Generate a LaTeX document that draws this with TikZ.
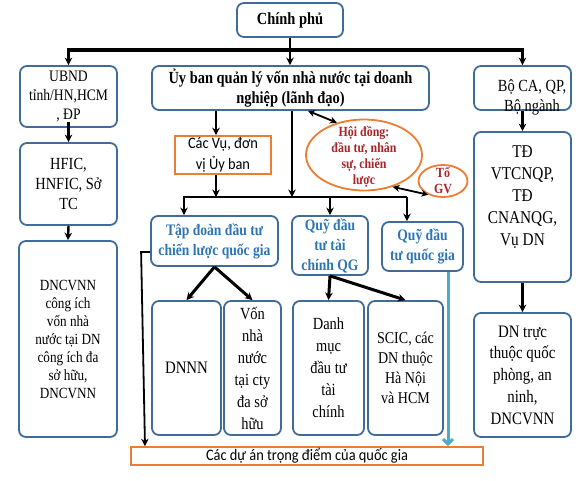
\documentclass[tikz,border=0pt]{standalone}
\usepackage{fontspec}
\setmainfont{Liberation Serif}[FakeStretch=0.85]
\newfontfamily\sansf{Carlito}[FakeStretch=0.9]
\usetikzlibrary{arrows.meta,shapes.geometric,calc}
\definecolor{boxblue}{RGB}{65,107,152}
\definecolor{txtblue}{RGB}{46,117,182}
\definecolor{orng}{RGB}{237,125,49}
\definecolor{dred}{RGB}{170,35,40}
\definecolor{lblue}{RGB}{75,172,198}
\newcommand\myfs[2]{\fontsize{#1}{#2}\selectfont}
\tikzset{
 bx/.style={draw=boxblue,line width=1.8pt,rounded corners=7pt,align=center,inner sep=0pt},
 ob/.style={draw=orng,line width=1.6pt,align=center,inner sep=0pt},
 el/.style={draw=orng,line width=1.8pt,ellipse,inner sep=0pt},
 rtxt/.style={align=center,inner sep=0pt,text=dred,font=\myfs{14}{16}\bfseries},
 btxt/.style={text=txtblue,font=\myfs{16}{20}\bfseries},
 arr/.style={draw=black,line width=2.4pt,-{Stealth[length=7.5pt,width=7.5pt]}},
 darr/.style={draw=black,line width=1.8pt,{Stealth[length=7pt,width=7pt]}-{Stealth[length=7pt,width=7pt]}},
 barr/.style={draw=lblue,line width=3pt,-{Straight Barb[length=5pt,width=10pt]}},
}
\begin{document}
\begin{tikzpicture}[x=1pt,y=-1pt]
\fill[white] (0,0) rectangle (583,480);
\useasboundingbox (0,0) rectangle (583,480);
% nodes
\node[bx,minimum width=106pt,minimum height=34pt,font=\myfs{17}{20}\bfseries] (gov) at (290,20) {Chính phủ};
\node[bx,minimum width=97pt,minimum height=61pt,font=\myfs{16}{19}] (ub) at (68.5,96.5) {UBND\\tỉnh/HN,HCM\\, ĐP};
\node[bx,minimum width=277pt,minimum height=44pt,font=\myfs{17}{20}\bfseries] (ubql) at (290.5,88) {Ủy ban quản lý vốn nhà nước tại doanh\\nghiệp (lãnh đạo)};
\node[bx,minimum width=97pt,minimum height=44pt] (bo) at (522.5,88) {};
\node[align=center,inner sep=0pt,font=\myfs{17}{20}] (botxt) at (532,97) {Bộ CA, QP,\\Bộ ngành};
\node[bx,minimum width=97pt,minimum height=82pt,font=\myfs{17}{20}] (hfic) at (68.5,184) {HFIC,\\HNFIC, Sở\\TC};
\node[bx,minimum width=98pt,minimum height=196pt,font=\myfs{15.5}{18}] (dncv) at (68,339) {DNCVNN\\công ích\\vốn nhà\\nước tại DN\\công ích đa\\sở hữu,\\DNCVNN};
\node[ob,minimum width=96pt,minimum height=38pt,font=\sansf\myfs{16}{21}] (vu) at (223,155) {Các Vụ, đơn\\vị Ủy ban};
\node[el,minimum width=116pt,minimum height=71pt] (hd) at (364,155) {};
\node[rtxt] (hdtxt) at (364,156.5) {Hội đồng:\\đầu tư, nhân\\sự, chiến\\lược};
\node[el,minimum width=49pt,minimum height=32pt] (tgv) at (443,181) {};
\node[rtxt] (tgvtxt) at (443,181) {Tổ\\GV};
\node[bx,btxt,minimum width=127pt,minimum height=50pt] (tdt) at (214.5,241) {Tập đoàn đầu tư\\chiến lược quốc gia};
\node[bx,btxt,minimum width=76pt,minimum height=59pt] (qtc) at (330,245.5) {Quỹ đầu\\tư tài\\chính QG};
\node[bx,btxt,minimum width=81pt,minimum height=49pt] (qqg) at (422.5,246.5) {Quỹ đầu\\tư quốc gia};
\node[bx,minimum width=97pt,minimum height=150pt] (td) at (522.5,207) {};
\node[align=center,inner sep=0pt,font=\myfs{18}{22}] (tdtxt) at (522.5,197) {TĐ\\VTCNQP,\\TĐ\\CNANQG,\\Vụ DN};
\node[bx,minimum width=97pt,minimum height=124pt,font=\myfs{17.5}{21.7}] (dntt) at (522.5,375) {DN trực\\thuộc quốc\\phòng, an\\ninh,\\DNCVNN};
\node[bx,minimum width=69pt,minimum height=134pt,font=\myfs{17.5}{22}] (dnnn) at (186.5,368) {DNNN};
\node[bx,minimum width=57pt,minimum height=134pt,font=\myfs{17}{22}] (von) at (252.5,368) {Vốn\\nhà\\nước\\tại cty\\đa sở\\hữu};
\node[bx,minimum width=71pt,minimum height=134pt,font=\myfs{17}{22}] (dm) at (328.5,368) {Danh\\mục\\đầu tư\\tài\\chính};
\node[bx,minimum width=75pt,minimum height=134pt,font=\myfs{16.5}{20}] (scic) at (405.5,368) {SCIC, các\\DN thuộc\\Hà Nội\\và HCM};
\node[ob,minimum width=352pt,minimum height=18pt,font=\sansf\myfs{16}{18}] (proj) at (307,456) {Các dự án trọng điểm của quốc gia};
% connectors
\coordinate (j1) at (290,50);
\draw[arr] (gov.south) -- (gov.south |- ubql.north);
\draw[arr,line width=3.5pt] (j1) -| (ub.north);
\draw[arr,line width=3.5pt] (j1) -| (bo.north);
\draw[arr] ([yshift=6pt]ub.south) -- (hfic.north);
\draw[arr] (hfic.south) -- (dncv.north);
\draw[arr] (bo.south) -- (td.north);
\draw[arr] (td.south) -- (dntt.north);
\draw[arr,line width=2pt] ([xshift=-7pt]vu.north |- ubql.south) -- ([xshift=-7pt]vu.north);
\coordinate (j2) at (292,197);
\coordinate (bl) at (184,197);
\coordinate (br) at (407,197);
\draw[arr,line width=2pt] ([xshift=-7pt]vu.south) -- ([xshift=-7pt]vu.south |- j2);
\draw[arr,line width=2pt] (ubql.south -| j2) -- (j2);
\draw[arr,line width=2pt] (br) -- (bl) -- (bl |- tdt.north);
\draw[arr,line width=2pt] (qtc.north |- j2) -- (qtc.north);
\draw[arr,line width=2pt] (br) -- (br |- qqg.north);
\draw[darr] ([xshift=17.5pt]ubql.south) -- (hd.130);
\draw[darr] (hd.-48) -- (tgv.223);
\draw[arr,line width=3pt] (tdt.south) -- (dnnn.north);
\draw[arr,line width=3pt] (tdt.south) -- (von.north);
\draw[arr,line width=3pt] (qtc.south) -- (dm.north);
\draw[arr,line width=3pt] (qtc.south) -- (scic.north);
\draw[barr] ([xshift=25.5pt]qqg.south) -- ([xshift=25.5pt]qqg.south |- proj.north);
\draw[arr,line width=1.8pt] ([yshift=-11pt]tdt.west) -- ++(-9,0) -- ([xshift=-162pt]proj.north);
\end{tikzpicture}
\end{document}
